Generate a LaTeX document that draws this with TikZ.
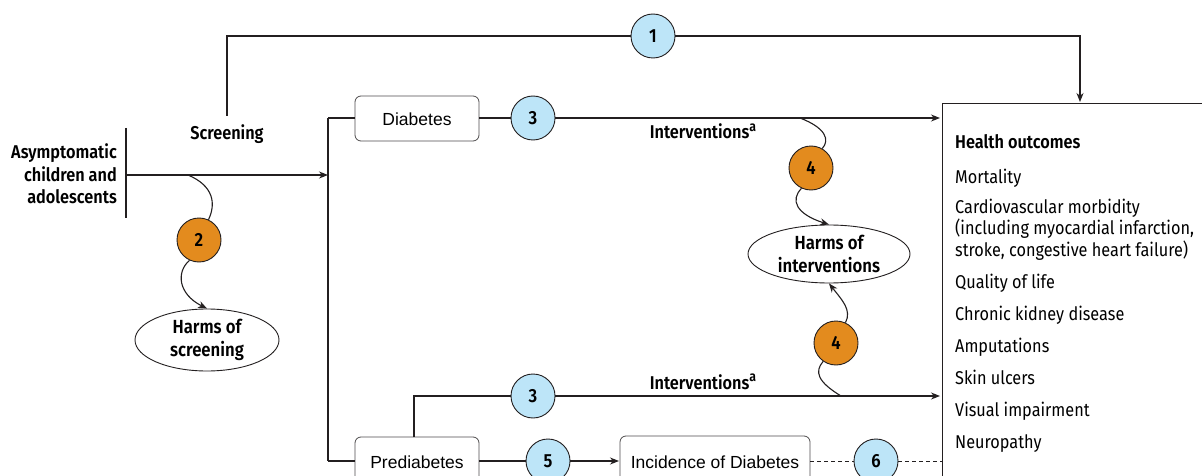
\documentclass[tikz,border=0pt]{standalone}
\usepackage{fontspec}
\setmainfont{Fira Sans}[FakeStretch=0.88,BoldFont={Fira Sans SemiBold}]
\newfontfamily\boxfont{Liberation Sans}
\usetikzlibrary{arrows.meta,shapes.geometric}
\definecolor{cblue}{HTML}{BDE5F8}
\definecolor{corange}{HTML}{E38B1E}
\definecolor{cline}{HTML}{231F20}
\newcommand{\supa}{\raisebox{0.38em}{\fontsize{14}{14}\selectfont a}}
\tikzset{
  conn/.style={draw=cline,line width=1.1pt},
  arr/.style={conn,-{Stealth[length=9pt,width=7pt]}},
  numblue/.style={circle,draw=cline,line width=0.9pt,fill=cblue,minimum size=44pt,inner sep=0pt,font=\fontsize{19}{19}\selectfont\bfseries},
  numorange/.style={circle,draw=cline,line width=0.9pt,fill=corange,minimum size=44pt,inner sep=0pt,font=\fontsize{19}{19}\selectfont\bfseries},
  roundbox/.style={draw=cline!80,line width=0.8pt,rounded corners=6pt,fill=white},
  harm/.style={ellipse,draw=cline,line width=0.9pt,fill=white,align=center,inner sep=0pt,font=\fontsize{19}{23}\selectfont\bfseries},
  lbl/.style={font=\fontsize{18.5}{22}\selectfont\bfseries,inner sep=0pt,anchor=base},
  outc/.style={font=\fontsize{18.5}{21}\selectfont,inner sep=0pt,anchor=base west},
  boxlbl/.style={font=\boxfont\fontsize{17.5}{20}\selectfont,inner sep=0pt}
}
\begin{document}
\begin{tikzpicture}[x=1pt,y=-1pt]
\clip (0,0) rectangle (1202,476);
\fill[white] (0,0) rectangle (1202,476);

% left population
\draw[conn] (126,128) -- (126,218);
\node[lbl,anchor=base east] (pop1) at (117,158) {Asymptomatic};
\node[lbl,anchor=base east] (pop2) at (117,181) {children and};
\node[lbl,anchor=base east] (pop3) at (117,203) {adolescents};
\coordinate (popx) at (126,175);
\coordinate (split) at (328,175);
\draw[arr] (popx) -- (split);
\node[lbl] (screen) at (227,140) {Screening};

% KQ1 top path
\coordinate (k1a) at (227,116);
\coordinate (k1b) at (227,36);
\coordinate (k1c) at (1080,36);
\coordinate (k1d) at (1080,102);
\node[numblue] (n1) at (653,36) {1};
\draw[conn] (k1a) -- (k1b) -- (n1);
\draw[arr] (n1) -- (k1c) -- (k1d);

% vertical split line
\coordinate (vtop) at (328,118);
\coordinate (vbot) at (328,461);
\draw[conn] (vtop) -- (vbot);

% Diabetes
\draw[roundbox] (355,96) rectangle (479,141);
\node[boxlbl] (diab) at (417,119) {Diabetes};
\coordinate (diabL) at (355,118);
\coordinate (diabR) at (479,118);
\draw[conn] (vtop) -- (diabL);
\node[numblue] (n3a) at (533,118) {3};
\draw[conn] (diabR) -- (n3a);
\coordinate (hoTop) at (940,118);
\draw[arr] (n3a) -- (hoTop);
\node[lbl] (int1) at (703,139) {Interventions\supa};

% Prediabetes
\draw[roundbox] (355,437) rectangle (479,490);
\node[boxlbl] (prediab) at (417,462) {Prediabetes};
\coordinate (preL) at (355,461);
\coordinate (preR) at (479,461);
\coordinate (preT) at (414,437);
\draw[conn] (vbot) -- (preL);
\coordinate (pc) at (414,396);
\node[numblue] (n3b) at (533,396) {3};
\draw[conn] (preT) -- (pc) -- (n3b);
\coordinate (hoBot) at (940,396);
\draw[arr] (n3b) -- (hoBot);
\node[lbl] (int2) at (703,389) {Interventions\supa};

% incidence
\node[numblue] (n5) at (548,461) {5};
\draw[conn] (preR) -- (n5);
\draw[roundbox] (620,436) rectangle (810,490);
\node[boxlbl] (inc) at (715,462) {Incidence of Diabetes};
\coordinate (incL) at (619,461);
\coordinate (incR) at (810,461);
\draw[arr] (n5) -- (incL);
\node[numblue] (n6) at (876,461) {6};
\coordinate (hoDash) at (942,461);
\draw[conn,dashed,dash pattern=on 4pt off 3pt,line width=0.9pt] (incR) -- (n6) -- (hoDash);

% harms of screening
\node[numorange] (n2) at (199,240) {2};
\node[harm,minimum width=144pt,minimum height=62pt] (hs) at (207,340) {Harms of\\screening};
\coordinate (s2) at (188,175);
\draw[conn] (s2) .. controls (214,186) and (216,204) .. (n2.65);
\draw[arr] (n2.245) .. controls (176,272) and (178,294) .. (hs.north);

% harms of interventions
\node[harm,minimum width=162pt,minimum height=58pt] (hi) at (829,254) {Harms of\\interventions};
\node[numorange] (n4a) at (811,168) {4};
\node[numorange] (n4b) at (836,343) {4};
\coordinate (s4a) at (800,118);
\coordinate (s4b) at (841,396);
\draw[conn] (s4a) .. controls (826,128) and (830,140) .. (n4a.60);
\draw[arr] (n4a.245) .. controls (790,200) and (796,214) .. (hi.north);
\draw[conn] (s4b) .. controls (818,382) and (814,372) .. (n4b.235);
\draw[arr] (n4b.65) .. controls (852,310) and (842,300) .. (hi.south);

% health outcomes box
\draw[draw=cline,line width=0.9pt,fill=white] (942,490) -- (942,103) -- (1210,103);
\node[outc,font=\fontsize{18.5}{21}\selectfont\bfseries] (ho0) at (955,149) {Health outcomes};
\node[outc] (ho1) at (955,183) {Mortality};
\node[outc] (ho2) at (955,213) {Cardiovascular morbidity};
\node[outc] (ho3) at (955,234) {(including myocardial infarction,};
\node[outc] (ho4) at (955,256) {stroke, congestive heart failure)};
\node[outc] (ho5) at (955,288) {Quality of life};
\node[outc] (ho6) at (955,320) {Chronic kidney disease};
\node[outc] (ho7) at (955,352) {Amputations};
\node[outc] (ho8) at (955,384) {Skin ulcers};
\node[outc] (ho9) at (955,416) {Visual impairment};
\node[outc] (ho10) at (955,448) {Neuropathy};
\end{tikzpicture}
\end{document}
